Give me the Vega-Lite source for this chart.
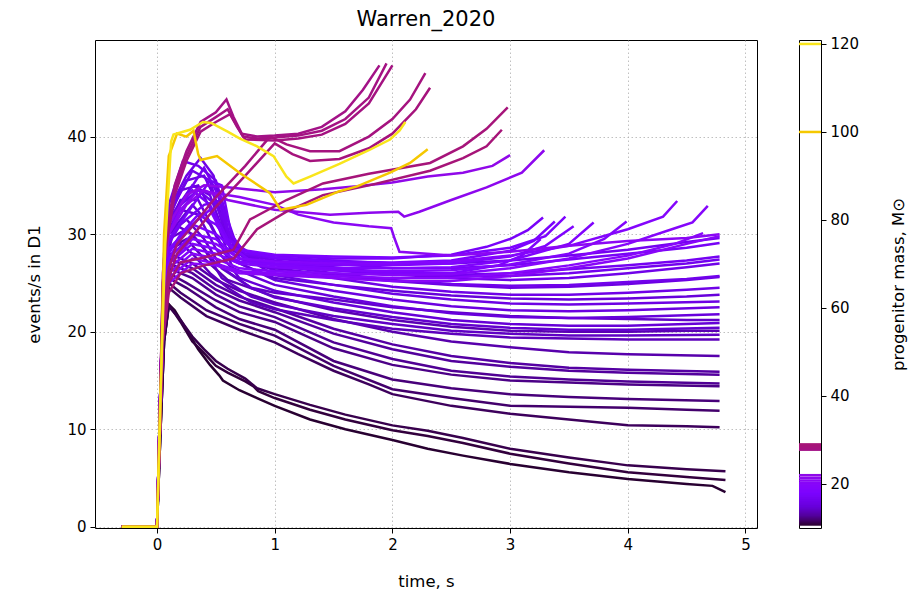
{
"$schema":"https://vega.github.io/schema/vega-lite/v6.json",
"padding":{"left":26,"top":8,"right":5,"bottom":5},
"background":"white",
"config":{"font":"DejaVu Sans","view":{"stroke":"black","strokeWidth":1},
"axis":{"labelFont":"DejaVu Sans","titleFont":"DejaVu Sans","labelFontSize":15,"titleFontSize":16.5,"titleFontWeight":"normal","labelColor":"#000","titleColor":"#000","tickColor":"#000","domain":false,"tickSize":5,"labelPadding":4},
"title":{"font":"DejaVu Sans","fontSize":21,"fontWeight":"normal","color":"#000"},
"concat":{"spacing":39}},
"datasets":{
"lines":[
{"k":"d1","m":10.8,"t":-0.3,"v":0},{"k":"d1","m":10.8,"t":0,"v":0},{"k":"d1","m":10.8,"t":0.03,"v":10},{"k":"d1","m":10.8,"t":0.06,"v":19},{"k":"d1","m":10.8,"t":0.1,"v":22.8},{"k":"d1","m":10.8,"t":0.15,"v":22.2},{"k":"d1","m":10.8,"t":0.25,"v":20.2},{"k":"d1","m":10.8,"t":0.35,"v":18.2},{"k":"d1","m":10.8,"t":0.45,"v":16.6},{"k":"d1","m":10.8,"t":0.53,"v":15.5},{"k":"d1","m":10.8,"t":0.56,"v":15.0},{"k":"d1","m":10.8,"t":0.7,"v":14.0},{"k":"d1","m":10.8,"t":0.85,"v":13.2},{"k":"d1","m":10.8,"t":1.0,"v":12.4},{"k":"d1","m":10.8,"t":1.3,"v":11.0},{"k":"d1","m":10.8,"t":1.6,"v":10.0},{"k":"d1","m":10.8,"t":2.0,"v":8.9},{"k":"d1","m":10.8,"t":2.3,"v":8.0},{"k":"d1","m":10.8,"t":2.6,"v":7.3},{"k":"d1","m":10.8,"t":3.0,"v":6.45},{"k":"d1","m":10.8,"t":3.5,"v":5.6},{"k":"d1","m":10.8,"t":4.0,"v":4.9},{"k":"d1","m":10.8,"t":4.5,"v":4.4},{"k":"d1","m":10.8,"t":4.72,"v":4.2},{"k":"d1","m":10.8,"t":4.83,"v":3.55},
{"k":"d2","m":11.0,"t":-0.3,"v":0},{"k":"d2","m":11.0,"t":0,"v":0},{"k":"d2","m":11.0,"t":0.03,"v":10},{"k":"d2","m":11.0,"t":0.06,"v":19},{"k":"d2","m":11.0,"t":0.1,"v":22.8},{"k":"d2","m":11.0,"t":0.2,"v":21},{"k":"d2","m":11.0,"t":0.3,"v":19},{"k":"d2","m":11.0,"t":0.4,"v":17.8},{"k":"d2","m":11.0,"t":0.5,"v":16.5},{"k":"d2","m":11.0,"t":0.6,"v":15.8},{"k":"d2","m":11.0,"t":0.75,"v":14.9},{"k":"d2","m":11.0,"t":0.82,"v":14.4},{"k":"d2","m":11.0,"t":0.86,"v":13.9},{"k":"d2","m":11.0,"t":1.0,"v":13.2},{"k":"d2","m":11.0,"t":1.3,"v":12.0},{"k":"d2","m":11.0,"t":1.6,"v":11.0},{"k":"d2","m":11.0,"t":2.0,"v":9.9},{"k":"d2","m":11.0,"t":2.3,"v":9.3},{"k":"d2","m":11.0,"t":2.6,"v":8.6},{"k":"d2","m":11.0,"t":3.0,"v":7.5},{"k":"d2","m":11.0,"t":3.5,"v":6.5},{"k":"d2","m":11.0,"t":4.0,"v":5.6},{"k":"d2","m":11.0,"t":4.5,"v":5.1},{"k":"d2","m":11.0,"t":4.83,"v":4.8},
{"k":"d3","m":11.3,"t":-0.3,"v":0},{"k":"d3","m":11.3,"t":0,"v":0},{"k":"d3","m":11.3,"t":0.03,"v":10},{"k":"d3","m":11.3,"t":0.06,"v":19},{"k":"d3","m":11.3,"t":0.1,"v":22.6},{"k":"d3","m":11.3,"t":0.2,"v":21.2},{"k":"d3","m":11.3,"t":0.3,"v":19.5},{"k":"d3","m":11.3,"t":0.4,"v":18.2},{"k":"d3","m":11.3,"t":0.5,"v":17.0},{"k":"d3","m":11.3,"t":0.6,"v":16.2},{"k":"d3","m":11.3,"t":0.75,"v":15.2},{"k":"d3","m":11.3,"t":0.8,"v":14.7},{"k":"d3","m":11.3,"t":0.85,"v":14.2},{"k":"d3","m":11.3,"t":1.0,"v":13.6},{"k":"d3","m":11.3,"t":1.3,"v":12.5},{"k":"d3","m":11.3,"t":1.6,"v":11.5},{"k":"d3","m":11.3,"t":2.0,"v":10.4},{"k":"d3","m":11.3,"t":2.3,"v":9.85},{"k":"d3","m":11.3,"t":2.6,"v":9.1},{"k":"d3","m":11.3,"t":3.0,"v":8.0},{"k":"d3","m":11.3,"t":3.5,"v":7.1},{"k":"d3","m":11.3,"t":4.0,"v":6.3},{"k":"d3","m":11.3,"t":4.5,"v":5.9},{"k":"d3","m":11.3,"t":4.83,"v":5.7},
{"k":"v1","m":11.6,"t":-0.3,"v":0},{"k":"v1","m":11.6,"t":0,"v":0},{"k":"v1","m":11.6,"t":0.03,"v":12},{"k":"v1","m":11.6,"t":0.06,"v":21},{"k":"v1","m":11.6,"t":0.1,"v":24.5},{"k":"v1","m":11.6,"t":0.2,"v":23.5},{"k":"v1","m":11.6,"t":0.42,"v":21.6},{"k":"v1","m":11.6,"t":0.7,"v":20.2},{"k":"v1","m":11.6,"t":1.0,"v":18.9},{"k":"v1","m":11.6,"t":1.2,"v":17.7},{"k":"v1","m":11.6,"t":1.5,"v":16.0},{"k":"v1","m":11.6,"t":1.8,"v":14.6},{"k":"v1","m":11.6,"t":2.0,"v":13.6},{"k":"v1","m":11.6,"t":2.5,"v":12.4},{"k":"v1","m":11.6,"t":3.0,"v":11.6},{"k":"v1","m":11.6,"t":3.5,"v":11.0},{"k":"v1","m":11.6,"t":4.0,"v":10.4},{"k":"v1","m":11.6,"t":4.5,"v":10.3},{"k":"v1","m":11.6,"t":4.78,"v":10.2},
{"k":"v2","m":11.9,"t":-0.3,"v":0},{"k":"v2","m":11.9,"t":0,"v":0},{"k":"v2","m":11.9,"t":0.03,"v":12},{"k":"v2","m":11.9,"t":0.06,"v":22},{"k":"v2","m":11.9,"t":0.1,"v":25},{"k":"v2","m":11.9,"t":0.2,"v":24},{"k":"v2","m":11.9,"t":0.42,"v":22.2},{"k":"v2","m":11.9,"t":0.7,"v":20.8},{"k":"v2","m":11.9,"t":1.0,"v":19.6},{"k":"v2","m":11.9,"t":1.5,"v":16.5},{"k":"v2","m":11.9,"t":2.0,"v":14.1},{"k":"v2","m":11.9,"t":2.5,"v":13.2},{"k":"v2","m":11.9,"t":3.0,"v":12.4},{"k":"v2","m":11.9,"t":3.5,"v":12.3},{"k":"v2","m":11.9,"t":4.0,"v":12.2},{"k":"v2","m":11.9,"t":4.5,"v":12.0},{"k":"v2","m":11.9,"t":4.78,"v":11.9},
{"k":"v3","m":12.2,"t":-0.3,"v":0},{"k":"v3","m":12.2,"t":0,"v":0},{"k":"v3","m":12.2,"t":0.03,"v":12},{"k":"v3","m":12.2,"t":0.06,"v":22},{"k":"v3","m":12.2,"t":0.1,"v":25.5},{"k":"v3","m":12.2,"t":0.25,"v":24.5},{"k":"v3","m":12.2,"t":0.5,"v":22.5},{"k":"v3","m":12.2,"t":0.7,"v":21.3},{"k":"v3","m":12.2,"t":1.0,"v":20.2},{"k":"v3","m":12.2,"t":1.5,"v":17.0},{"k":"v3","m":12.2,"t":2.0,"v":15.1},{"k":"v3","m":12.2,"t":2.5,"v":14.2},{"k":"v3","m":12.2,"t":3.0,"v":13.6},{"k":"v3","m":12.2,"t":3.5,"v":13.3},{"k":"v3","m":12.2,"t":4.0,"v":13.1},{"k":"v3","m":12.2,"t":4.78,"v":12.9},
{"k":"v4","m":12.5,"t":-0.3,"v":0},{"k":"v4","m":12.5,"t":0,"v":0},{"k":"v4","m":12.5,"t":0.03,"v":13},{"k":"v4","m":12.5,"t":0.06,"v":22.5},{"k":"v4","m":12.5,"t":0.1,"v":26},{"k":"v4","m":12.5,"t":0.25,"v":25},{"k":"v4","m":12.5,"t":0.5,"v":23.2},{"k":"v4","m":12.5,"t":0.7,"v":22},{"k":"v4","m":12.5,"t":1.0,"v":21},{"k":"v4","m":12.5,"t":1.5,"v":18.3},{"k":"v4","m":12.5,"t":2.0,"v":16.6},{"k":"v4","m":12.5,"t":2.5,"v":15.6},{"k":"v4","m":12.5,"t":3.0,"v":15.0},{"k":"v4","m":12.5,"t":3.5,"v":14.8},{"k":"v4","m":12.5,"t":4.0,"v":14.6},{"k":"v4","m":12.5,"t":4.78,"v":14.4},
{"k":"v5","m":12.8,"t":-0.3,"v":0},{"k":"v5","m":12.8,"t":0,"v":0},{"k":"v5","m":12.8,"t":0.03,"v":13},{"k":"v5","m":12.8,"t":0.06,"v":23},{"k":"v5","m":12.8,"t":0.1,"v":26.5},{"k":"v5","m":12.8,"t":0.3,"v":25.5},{"k":"v5","m":12.8,"t":0.5,"v":23.8},{"k":"v5","m":12.8,"t":0.7,"v":22.6},{"k":"v5","m":12.8,"t":1.0,"v":21.5},{"k":"v5","m":12.8,"t":1.5,"v":18.9},{"k":"v5","m":12.8,"t":2.0,"v":17.2},{"k":"v5","m":12.8,"t":2.5,"v":16.0},{"k":"v5","m":12.8,"t":3.0,"v":15.4},{"k":"v5","m":12.8,"t":3.5,"v":15.1},{"k":"v5","m":12.8,"t":4.0,"v":14.9},{"k":"v5","m":12.8,"t":4.78,"v":14.7},
{"k":"v6","m":13.0,"t":-0.3,"v":0},{"k":"v6","m":13.0,"t":0,"v":0},{"k":"v6","m":13.0,"t":0.03,"v":13},{"k":"v6","m":13.0,"t":0.06,"v":23},{"k":"v6","m":13.0,"t":0.1,"v":27},{"k":"v6","m":13.0,"t":0.3,"v":26},{"k":"v6","m":13.0,"t":0.5,"v":24.3},{"k":"v6","m":13.0,"t":0.7,"v":23.2},{"k":"v6","m":13.0,"t":1.0,"v":22},{"k":"v6","m":13.0,"t":1.5,"v":19.8},{"k":"v6","m":13.0,"t":2.0,"v":18.2},{"k":"v6","m":13.0,"t":2.5,"v":17.0},{"k":"v6","m":13.0,"t":3.0,"v":16.4},{"k":"v6","m":13.0,"t":3.5,"v":16.0},{"k":"v6","m":13.0,"t":4.0,"v":15.8},{"k":"v6","m":13.0,"t":4.78,"v":15.6},
{"k":"v7","m":13.2,"t":-0.3,"v":0},{"k":"v7","m":13.2,"t":0,"v":0},{"k":"v7","m":13.2,"t":0.03,"v":13},{"k":"v7","m":13.2,"t":0.06,"v":23.5},{"k":"v7","m":13.2,"t":0.1,"v":27.5},{"k":"v7","m":13.2,"t":0.3,"v":26.5},{"k":"v7","m":13.2,"t":0.5,"v":24.8},{"k":"v7","m":13.2,"t":0.7,"v":23.6},{"k":"v7","m":13.2,"t":1.0,"v":22.4},{"k":"v7","m":13.2,"t":1.5,"v":20.3},{"k":"v7","m":13.2,"t":2.0,"v":18.7},{"k":"v7","m":13.2,"t":2.5,"v":17.5},{"k":"v7","m":13.2,"t":3.0,"v":16.8},{"k":"v7","m":13.2,"t":3.5,"v":16.3},{"k":"v7","m":13.2,"t":4.0,"v":16.1},{"k":"v7","m":13.2,"t":4.78,"v":15.9},
{"k":"v8","m":13.5,"t":-0.3,"v":0},{"k":"v8","m":13.5,"t":0,"v":0},{"k":"v8","m":13.5,"t":0.03,"v":14},{"k":"v8","m":13.5,"t":0.06,"v":24},{"k":"v8","m":13.5,"t":0.1,"v":28},{"k":"v8","m":13.5,"t":0.3,"v":27},{"k":"v8","m":13.5,"t":0.5,"v":25.3},{"k":"v8","m":13.5,"t":0.7,"v":24.2},{"k":"v8","m":13.5,"t":1.0,"v":23},{"k":"v8","m":13.5,"t":1.5,"v":21.3},{"k":"v8","m":13.5,"t":2.0,"v":20},{"k":"v8","m":13.5,"t":2.5,"v":19},{"k":"v8","m":13.5,"t":3.0,"v":18.4},{"k":"v8","m":13.5,"t":3.5,"v":17.9},{"k":"v8","m":13.5,"t":4.0,"v":17.7},{"k":"v8","m":13.5,"t":4.78,"v":17.5},
{"k":"e7","m":13.75,"t":-0.3,"v":0},{"k":"e7","m":13.75,"t":0,"v":0},{"k":"e7","m":13.75,"t":0.03,"v":14},{"k":"e7","m":13.75,"t":0.06,"v":24.5},{"k":"e7","m":13.75,"t":0.1,"v":28.5},{"k":"e7","m":13.75,"t":0.25,"v":29.5},{"k":"e7","m":13.75,"t":0.4,"v":27.5},{"k":"e7","m":13.75,"t":0.6,"v":25.3},{"k":"e7","m":13.75,"t":1.0,"v":23.6},{"k":"e7","m":13.75,"t":1.5,"v":22.2},{"k":"e7","m":13.75,"t":2.0,"v":21.2},{"k":"e7","m":13.75,"t":2.5,"v":20.5},{"k":"e7","m":13.75,"t":3.0,"v":20.1},{"k":"e7","m":13.75,"t":3.5,"v":20},{"k":"e7","m":13.75,"t":4.0,"v":20},{"k":"e7","m":13.75,"t":4.5,"v":20.1},{"k":"e7","m":13.75,"t":4.78,"v":20.1},
{"k":"f12","m":14.0,"t":-0.3,"v":0},{"k":"f12","m":14.0,"t":0,"v":0},{"k":"f12","m":14.0,"t":0.03,"v":14},{"k":"f12","m":14.0,"t":0.06,"v":25},{"k":"f12","m":14.0,"t":0.1,"v":28.5},{"k":"f12","m":14.0,"t":0.2,"v":29},{"k":"f12","m":14.0,"t":0.3,"v":28},{"k":"f12","m":14.0,"t":0.45,"v":26},{"k":"f12","m":14.0,"t":0.6,"v":24.5},{"k":"f12","m":14.0,"t":0.8,"v":23},{"k":"f12","m":14.0,"t":1.0,"v":22.3},{"k":"f12","m":14.0,"t":1.5,"v":21.2},{"k":"f12","m":14.0,"t":2.0,"v":20.3},{"k":"f12","m":14.0,"t":2.5,"v":19.8},{"k":"f12","m":14.0,"t":3.0,"v":19.4},{"k":"f12","m":14.0,"t":3.5,"v":19.3},{"k":"f12","m":14.0,"t":4.0,"v":19.2},{"k":"f12","m":14.0,"t":4.78,"v":19.2},
{"k":"f11","m":14.3,"t":-0.3,"v":0},{"k":"f11","m":14.3,"t":0,"v":0},{"k":"f11","m":14.3,"t":0.03,"v":14},{"k":"f11","m":14.3,"t":0.06,"v":25.5},{"k":"f11","m":14.3,"t":0.1,"v":29.5},{"k":"f11","m":14.3,"t":0.25,"v":30.5},{"k":"f11","m":14.3,"t":0.4,"v":28.5},{"k":"f11","m":14.3,"t":0.55,"v":25.5},{"k":"f11","m":14.3,"t":0.8,"v":23.6},{"k":"f11","m":14.3,"t":1.0,"v":22.8},{"k":"f11","m":14.3,"t":1.5,"v":21.6},{"k":"f11","m":14.3,"t":2.0,"v":20.8},{"k":"f11","m":14.3,"t":2.5,"v":20.1},{"k":"f11","m":14.3,"t":3.0,"v":19.8},{"k":"f11","m":14.3,"t":3.5,"v":19.6},{"k":"f11","m":14.3,"t":4.0,"v":19.6},{"k":"f11","m":14.3,"t":4.78,"v":19.7},
{"k":"e1","m":14.45,"t":-0.3,"v":0},{"k":"e1","m":14.45,"t":0,"v":0},{"k":"e1","m":14.45,"t":0.03,"v":14},{"k":"e1","m":14.45,"t":0.06,"v":26},{"k":"e1","m":14.45,"t":0.15,"v":31},{"k":"e1","m":14.45,"t":0.3,"v":30},{"k":"e1","m":14.45,"t":0.5,"v":27},{"k":"e1","m":14.45,"t":0.8,"v":24.5},{"k":"e1","m":14.45,"t":1.0,"v":24},{"k":"e1","m":14.45,"t":1.5,"v":23.3},{"k":"e1","m":14.45,"t":2.0,"v":22.5},{"k":"e1","m":14.45,"t":2.5,"v":22},{"k":"e1","m":14.45,"t":3.0,"v":21.6},{"k":"e1","m":14.45,"t":3.5,"v":21.4},{"k":"e1","m":14.45,"t":4.0,"v":21.3},{"k":"e1","m":14.45,"t":4.5,"v":21.2},{"k":"e1","m":14.45,"t":4.78,"v":21.2},
{"k":"f10","m":14.6,"t":-0.3,"v":0},{"k":"f10","m":14.6,"t":0,"v":0},{"k":"f10","m":14.6,"t":0.03,"v":14},{"k":"f10","m":14.6,"t":0.06,"v":26},{"k":"f10","m":14.6,"t":0.1,"v":30},{"k":"f10","m":14.6,"t":0.25,"v":31.5},{"k":"f10","m":14.6,"t":0.4,"v":29.5},{"k":"f10","m":14.6,"t":0.55,"v":26.5},{"k":"f10","m":14.6,"t":0.8,"v":24.5},{"k":"f10","m":14.6,"t":1.0,"v":23.5},{"k":"f10","m":14.6,"t":1.5,"v":22.4},{"k":"f10","m":14.6,"t":2.0,"v":21.5},{"k":"f10","m":14.6,"t":2.5,"v":20.8},{"k":"f10","m":14.6,"t":3.0,"v":20.4},{"k":"f10","m":14.6,"t":3.5,"v":20.2},{"k":"f10","m":14.6,"t":4.0,"v":20.2},{"k":"f10","m":14.6,"t":4.78,"v":20.4},
{"k":"f9","m":14.9,"t":-0.3,"v":0},{"k":"f9","m":14.9,"t":0,"v":0},{"k":"f9","m":14.9,"t":0.03,"v":15},{"k":"f9","m":14.9,"t":0.06,"v":26},{"k":"f9","m":14.9,"t":0.1,"v":30.5},{"k":"f9","m":14.9,"t":0.2,"v":32.5},{"k":"f9","m":14.9,"t":0.35,"v":32},{"k":"f9","m":14.9,"t":0.5,"v":28.5},{"k":"f9","m":14.9,"t":0.7,"v":25.5},{"k":"f9","m":14.9,"t":1.0,"v":24.2},{"k":"f9","m":14.9,"t":1.5,"v":23},{"k":"f9","m":14.9,"t":2.0,"v":22},{"k":"f9","m":14.9,"t":2.5,"v":21.2},{"k":"f9","m":14.9,"t":3.0,"v":20.8},{"k":"f9","m":14.9,"t":3.5,"v":20.6},{"k":"f9","m":14.9,"t":4.0,"v":20.6},{"k":"f9","m":14.9,"t":4.78,"v":20.9},
{"k":"e2","m":15.05,"t":-0.3,"v":0},{"k":"e2","m":15.05,"t":0,"v":0},{"k":"e2","m":15.05,"t":0.03,"v":15},{"k":"e2","m":15.05,"t":0.06,"v":26},{"k":"e2","m":15.05,"t":0.1,"v":30},{"k":"e2","m":15.05,"t":0.3,"v":33},{"k":"e2","m":15.05,"t":0.45,"v":31},{"k":"e2","m":15.05,"t":0.6,"v":27.5},{"k":"e2","m":15.05,"t":1.0,"v":25.5},{"k":"e2","m":15.05,"t":1.5,"v":24.8},{"k":"e2","m":15.05,"t":2.0,"v":24.2},{"k":"e2","m":15.05,"t":2.5,"v":23.7},{"k":"e2","m":15.05,"t":3.0,"v":23.4},{"k":"e2","m":15.05,"t":3.5,"v":23.3},{"k":"e2","m":15.05,"t":4.0,"v":23.4},{"k":"e2","m":15.05,"t":4.5,"v":23.6},{"k":"e2","m":15.05,"t":4.78,"v":23.8},
{"k":"f8","m":15.2,"t":-0.3,"v":0},{"k":"f8","m":15.2,"t":0,"v":0},{"k":"f8","m":15.2,"t":0.03,"v":15},{"k":"f8","m":15.2,"t":0.06,"v":26.5},{"k":"f8","m":15.2,"t":0.1,"v":31},{"k":"f8","m":15.2,"t":0.2,"v":33.5},{"k":"f8","m":15.2,"t":0.35,"v":33.5},{"k":"f8","m":15.2,"t":0.5,"v":30},{"k":"f8","m":15.2,"t":0.65,"v":26.5},{"k":"f8","m":15.2,"t":1.0,"v":24.8},{"k":"f8","m":15.2,"t":1.5,"v":23.6},{"k":"f8","m":15.2,"t":2.0,"v":22.6},{"k":"f8","m":15.2,"t":2.5,"v":21.9},{"k":"f8","m":15.2,"t":3.0,"v":21.5},{"k":"f8","m":15.2,"t":3.5,"v":21.4},{"k":"f8","m":15.2,"t":4.0,"v":21.5},{"k":"f8","m":15.2,"t":4.78,"v":21.8},
{"k":"f7","m":15.5,"t":-0.3,"v":0},{"k":"f7","m":15.5,"t":0,"v":0},{"k":"f7","m":15.5,"t":0.03,"v":15},{"k":"f7","m":15.5,"t":0.06,"v":27},{"k":"f7","m":15.5,"t":0.1,"v":31.5},{"k":"f7","m":15.5,"t":0.2,"v":34.5},{"k":"f7","m":15.5,"t":0.35,"v":35},{"k":"f7","m":15.5,"t":0.5,"v":31.5},{"k":"f7","m":15.5,"t":0.62,"v":27.5},{"k":"f7","m":15.5,"t":1.0,"v":25.3},{"k":"f7","m":15.5,"t":1.5,"v":24.2},{"k":"f7","m":15.5,"t":2.0,"v":23.3},{"k":"f7","m":15.5,"t":2.5,"v":22.6},{"k":"f7","m":15.5,"t":3.0,"v":22.2},{"k":"f7","m":15.5,"t":3.5,"v":22.1},{"k":"f7","m":15.5,"t":4.0,"v":22.2},{"k":"f7","m":15.5,"t":4.78,"v":22.5},
{"k":"e3","m":15.65,"t":-0.3,"v":0},{"k":"e3","m":15.65,"t":0,"v":0},{"k":"e3","m":15.65,"t":0.03,"v":15},{"k":"e3","m":15.65,"t":0.06,"v":27},{"k":"e3","m":15.65,"t":0.1,"v":31.5},{"k":"e3","m":15.65,"t":0.3,"v":35},{"k":"e3","m":15.65,"t":0.45,"v":34},{"k":"e3","m":15.65,"t":0.6,"v":29},{"k":"e3","m":15.65,"t":0.8,"v":27},{"k":"e3","m":15.65,"t":1.0,"v":26.5},{"k":"e3","m":15.65,"t":1.5,"v":25.8},{"k":"e3","m":15.65,"t":2.0,"v":25.2},{"k":"e3","m":15.65,"t":2.5,"v":24.8},{"k":"e3","m":15.65,"t":3.0,"v":24.5},{"k":"e3","m":15.65,"t":3.5,"v":24.6},{"k":"e3","m":15.65,"t":4.0,"v":24.9},{"k":"e3","m":15.65,"t":4.5,"v":25.3},{"k":"e3","m":15.65,"t":4.78,"v":25.6},
{"k":"f6","m":15.8,"t":-0.3,"v":0},{"k":"f6","m":15.8,"t":0,"v":0},{"k":"f6","m":15.8,"t":0.03,"v":15},{"k":"f6","m":15.8,"t":0.06,"v":27},{"k":"f6","m":15.8,"t":0.1,"v":32},{"k":"f6","m":15.8,"t":0.25,"v":35.5},{"k":"f6","m":15.8,"t":0.4,"v":36},{"k":"f6","m":15.8,"t":0.52,"v":33},{"k":"f6","m":15.8,"t":0.62,"v":28.5},{"k":"f6","m":15.8,"t":1.0,"v":25.8},{"k":"f6","m":15.8,"t":1.5,"v":24.8},{"k":"f6","m":15.8,"t":2.0,"v":23.9},{"k":"f6","m":15.8,"t":2.5,"v":23.3},{"k":"f6","m":15.8,"t":3.0,"v":22.9},{"k":"f6","m":15.8,"t":3.5,"v":22.8},{"k":"f6","m":15.8,"t":4.0,"v":22.9},{"k":"f6","m":15.8,"t":4.78,"v":23.1},
{"k":"f5","m":16.1,"t":-0.3,"v":0},{"k":"f5","m":16.1,"t":0,"v":0},{"k":"f5","m":16.1,"t":0.03,"v":15},{"k":"f5","m":16.1,"t":0.06,"v":27.5},{"k":"f5","m":16.1,"t":0.1,"v":32.5},{"k":"f5","m":16.1,"t":0.25,"v":36},{"k":"f5","m":16.1,"t":0.37,"v":37.8},{"k":"f5","m":16.1,"t":0.48,"v":36},{"k":"f5","m":16.1,"t":0.58,"v":31},{"k":"f5","m":16.1,"t":0.7,"v":27.5},{"k":"f5","m":16.1,"t":1.0,"v":26.3},{"k":"f5","m":16.1,"t":1.5,"v":25.5},{"k":"f5","m":16.1,"t":2.0,"v":24.6},{"k":"f5","m":16.1,"t":2.5,"v":24.1},{"k":"f5","m":16.1,"t":3.0,"v":23.8},{"k":"f5","m":16.1,"t":3.5,"v":23.8},{"k":"f5","m":16.1,"t":4.0,"v":24},{"k":"f5","m":16.1,"t":4.5,"v":24.3},{"k":"f5","m":16.1,"t":4.78,"v":24.5},
{"k":"e4","m":16.25,"t":-0.3,"v":0},{"k":"e4","m":16.25,"t":0,"v":0},{"k":"e4","m":16.25,"t":0.03,"v":15},{"k":"e4","m":16.25,"t":0.06,"v":27.5},{"k":"e4","m":16.25,"t":0.1,"v":32},{"k":"e4","m":16.25,"t":0.3,"v":36.5},{"k":"e4","m":16.25,"t":0.45,"v":35.5},{"k":"e4","m":16.25,"t":0.58,"v":30},{"k":"e4","m":16.25,"t":0.75,"v":27.8},{"k":"e4","m":16.25,"t":1.0,"v":27},{"k":"e4","m":16.25,"t":1.5,"v":26.5},{"k":"e4","m":16.25,"t":2.0,"v":25.9},{"k":"e4","m":16.25,"t":2.5,"v":25.5},{"k":"e4","m":16.25,"t":3.0,"v":25.3},{"k":"e4","m":16.25,"t":3.5,"v":25.5},{"k":"e4","m":16.25,"t":4.0,"v":26},{"k":"e4","m":16.25,"t":4.5,"v":26.6},{"k":"e4","m":16.25,"t":4.78,"v":27},
{"k":"f4","m":16.4,"t":-0.3,"v":0},{"k":"f4","m":16.4,"t":0,"v":0},{"k":"f4","m":16.4,"t":0.03,"v":15},{"k":"f4","m":16.4,"t":0.06,"v":28},{"k":"f4","m":16.4,"t":0.1,"v":33},{"k":"f4","m":16.4,"t":0.22,"v":37.5},{"k":"f4","m":16.4,"t":0.35,"v":37},{"k":"f4","m":16.4,"t":0.5,"v":35.5},{"k":"f4","m":16.4,"t":0.6,"v":31.5},{"k":"f4","m":16.4,"t":0.7,"v":28},{"k":"f4","m":16.4,"t":1.0,"v":26.8},{"k":"f4","m":16.4,"t":1.5,"v":26},{"k":"f4","m":16.4,"t":2.0,"v":25.3},{"k":"f4","m":16.4,"t":2.5,"v":24.9},{"k":"f4","m":16.4,"t":3.0,"v":24.7},{"k":"f4","m":16.4,"t":3.5,"v":24.8},{"k":"f4","m":16.4,"t":4.0,"v":25.1},{"k":"f4","m":16.4,"t":4.5,"v":25.4},{"k":"f4","m":16.4,"t":4.78,"v":25.7},
{"k":"f3","m":16.7,"t":-0.3,"v":0},{"k":"f3","m":16.7,"t":0,"v":0},{"k":"f3","m":16.7,"t":0.03,"v":15},{"k":"f3","m":16.7,"t":0.06,"v":27},{"k":"f3","m":16.7,"t":0.1,"v":31},{"k":"f3","m":16.7,"t":0.2,"v":33},{"k":"f3","m":16.7,"t":0.35,"v":34.5},{"k":"f3","m":16.7,"t":0.5,"v":33},{"k":"f3","m":16.7,"t":0.6,"v":30.5},{"k":"f3","m":16.7,"t":0.7,"v":28},{"k":"f3","m":16.7,"t":1.0,"v":27.3},{"k":"f3","m":16.7,"t":1.5,"v":26.6},{"k":"f3","m":16.7,"t":2.0,"v":26},{"k":"f3","m":16.7,"t":2.5,"v":25.7},{"k":"f3","m":16.7,"t":3.0,"v":25.7},{"k":"f3","m":16.7,"t":3.5,"v":26},{"k":"f3","m":16.7,"t":4.0,"v":26.5},{"k":"f3","m":16.7,"t":4.5,"v":27},{"k":"f3","m":16.7,"t":4.78,"v":27.4},
{"k":"e5","m":16.85,"t":-0.3,"v":0},{"k":"e5","m":16.85,"t":0,"v":0},{"k":"e5","m":16.85,"t":0.03,"v":15},{"k":"e5","m":16.85,"t":0.06,"v":27},{"k":"e5","m":16.85,"t":0.1,"v":31},{"k":"e5","m":16.85,"t":0.25,"v":34},{"k":"e5","m":16.85,"t":0.4,"v":36.8},{"k":"e5","m":16.85,"t":0.52,"v":34},{"k":"e5","m":16.85,"t":0.62,"v":29},{"k":"e5","m":16.85,"t":0.8,"v":28},{"k":"e5","m":16.85,"t":1.0,"v":27.6},{"k":"e5","m":16.85,"t":1.5,"v":27.3},{"k":"e5","m":16.85,"t":2.0,"v":27},{"k":"e5","m":16.85,"t":2.5,"v":27},{"k":"e5","m":16.85,"t":3.0,"v":27.3},{"k":"e5","m":16.85,"t":3.5,"v":27.8},{"k":"e5","m":16.85,"t":4.0,"v":28.4},{"k":"e5","m":16.85,"t":4.5,"v":29.2},{"k":"e5","m":16.85,"t":4.78,"v":29.6},
{"k":"f2","m":17.0,"t":-0.3,"v":0},{"k":"f2","m":17.0,"t":0,"v":0},{"k":"f2","m":17.0,"t":0.03,"v":14},{"k":"f2","m":17.0,"t":0.06,"v":26},{"k":"f2","m":17.0,"t":0.1,"v":29},{"k":"f2","m":17.0,"t":0.2,"v":31},{"k":"f2","m":17.0,"t":0.4,"v":33},{"k":"f2","m":17.0,"t":0.55,"v":33.5},{"k":"f2","m":17.0,"t":0.62,"v":29.5},{"k":"f2","m":17.0,"t":0.75,"v":27.5},{"k":"f2","m":17.0,"t":1.0,"v":27},{"k":"f2","m":17.0,"t":1.5,"v":26.3},{"k":"f2","m":17.0,"t":2.0,"v":25.8},{"k":"f2","m":17.0,"t":2.5,"v":25.8},{"k":"f2","m":17.0,"t":3.0,"v":26},{"k":"f2","m":17.0,"t":3.5,"v":26.4},{"k":"f2","m":17.0,"t":4.0,"v":26.8},{"k":"f2","m":17.0,"t":4.5,"v":27.3},{"k":"f2","m":17.0,"t":4.78,"v":27.7},
{"k":"f1","m":17.3,"t":-0.3,"v":0},{"k":"f1","m":17.3,"t":0,"v":0},{"k":"f1","m":17.3,"t":0.03,"v":14},{"k":"f1","m":17.3,"t":0.06,"v":26},{"k":"f1","m":17.3,"t":0.1,"v":29.5},{"k":"f1","m":17.3,"t":0.25,"v":32},{"k":"f1","m":17.3,"t":0.45,"v":35.5},{"k":"f1","m":17.3,"t":0.55,"v":35},{"k":"f1","m":17.3,"t":0.63,"v":30},{"k":"f1","m":17.3,"t":0.75,"v":28},{"k":"f1","m":17.3,"t":1.0,"v":27.5},{"k":"f1","m":17.3,"t":1.5,"v":27},{"k":"f1","m":17.3,"t":2.0,"v":26.5},{"k":"f1","m":17.3,"t":2.5,"v":26.5},{"k":"f1","m":17.3,"t":3.0,"v":26.8},{"k":"f1","m":17.3,"t":3.5,"v":27.4},{"k":"f1","m":17.3,"t":4.0,"v":28},{"k":"f1","m":17.3,"t":4.5,"v":28.6},{"k":"f1","m":17.3,"t":4.78,"v":29.1},
{"k":"t1","m":17.6,"t":-0.3,"v":0},{"k":"t1","m":17.6,"t":0,"v":0},{"k":"t1","m":17.6,"t":0.03,"v":14},{"k":"t1","m":17.6,"t":0.06,"v":26},{"k":"t1","m":17.6,"t":0.1,"v":30},{"k":"t1","m":17.6,"t":0.2,"v":33},{"k":"t1","m":17.6,"t":0.3,"v":34.5},{"k":"t1","m":17.6,"t":0.45,"v":33},{"k":"t1","m":17.6,"t":0.6,"v":29.5},{"k":"t1","m":17.6,"t":0.8,"v":28},{"k":"t1","m":17.6,"t":1.0,"v":27.8},{"k":"t1","m":17.6,"t":1.5,"v":27.5},{"k":"t1","m":17.6,"t":2.0,"v":27.5},{"k":"t1","m":17.6,"t":2.5,"v":27.9},{"k":"t1","m":17.6,"t":2.8,"v":28.7},{"k":"t1","m":17.6,"t":3.0,"v":29.5},{"k":"t1","m":17.6,"t":3.15,"v":30.4},{"k":"t1","m":17.6,"t":3.28,"v":31.7},
{"k":"t2","m":17.9,"t":-0.3,"v":0},{"k":"t2","m":17.9,"t":0,"v":0},{"k":"t2","m":17.9,"t":0.03,"v":13},{"k":"t2","m":17.9,"t":0.06,"v":25},{"k":"t2","m":17.9,"t":0.1,"v":28},{"k":"t2","m":17.9,"t":0.2,"v":30},{"k":"t2","m":17.9,"t":0.35,"v":32},{"k":"t2","m":17.9,"t":0.5,"v":31},{"k":"t2","m":17.9,"t":0.65,"v":28.5},{"k":"t2","m":17.9,"t":1.0,"v":27.6},{"k":"t2","m":17.9,"t":1.5,"v":27.2},{"k":"t2","m":17.9,"t":2.0,"v":27.1},{"k":"t2","m":17.9,"t":2.5,"v":27.3},{"k":"t2","m":17.9,"t":3.0,"v":28.3},{"k":"t2","m":17.9,"t":3.2,"v":29.3},{"k":"t2","m":17.9,"t":3.38,"v":31.3},
{"k":"t3","m":18.2,"t":-0.3,"v":0},{"k":"t3","m":18.2,"t":0,"v":0},{"k":"t3","m":18.2,"t":0.03,"v":13},{"k":"t3","m":18.2,"t":0.06,"v":25},{"k":"t3","m":18.2,"t":0.1,"v":28.5},{"k":"t3","m":18.2,"t":0.3,"v":31},{"k":"t3","m":18.2,"t":0.5,"v":30},{"k":"t3","m":18.2,"t":0.65,"v":28.5},{"k":"t3","m":18.2,"t":1.0,"v":27.9},{"k":"t3","m":18.2,"t":1.5,"v":27.7},{"k":"t3","m":18.2,"t":2.0,"v":27.6},{"k":"t3","m":18.2,"t":2.5,"v":27.8},{"k":"t3","m":18.2,"t":3.0,"v":28.6},{"k":"t3","m":18.2,"t":3.3,"v":29.8},{"k":"t3","m":18.2,"t":3.47,"v":31.8},
{"k":"e6","m":18.35,"t":-0.3,"v":0},{"k":"e6","m":18.35,"t":0,"v":0},{"k":"e6","m":18.35,"t":0.03,"v":13},{"k":"e6","m":18.35,"t":0.06,"v":24.5},{"k":"e6","m":18.35,"t":0.1,"v":27.5},{"k":"e6","m":18.35,"t":0.25,"v":30.5},{"k":"e6","m":18.35,"t":0.45,"v":32.5},{"k":"e6","m":18.35,"t":0.6,"v":29},{"k":"e6","m":18.35,"t":0.8,"v":27.2},{"k":"e6","m":18.35,"t":1.0,"v":26.9},{"k":"e6","m":18.35,"t":1.5,"v":26.4},{"k":"e6","m":18.35,"t":2.0,"v":26},{"k":"e6","m":18.35,"t":2.5,"v":26},{"k":"e6","m":18.35,"t":2.9,"v":26.8},{"k":"e6","m":18.35,"t":3.1,"v":27.8},{"k":"e6","m":18.35,"t":3.26,"v":29.5},
{"k":"t4","m":18.5,"t":-0.3,"v":0},{"k":"t4","m":18.5,"t":0,"v":0},{"k":"t4","m":18.5,"t":0.03,"v":13},{"k":"t4","m":18.5,"t":0.06,"v":24.5},{"k":"t4","m":18.5,"t":0.1,"v":27.5},{"k":"t4","m":18.5,"t":0.3,"v":30},{"k":"t4","m":18.5,"t":0.5,"v":29.5},{"k":"t4","m":18.5,"t":0.7,"v":27.5},{"k":"t4","m":18.5,"t":1.0,"v":27},{"k":"t4","m":18.5,"t":1.5,"v":26.8},{"k":"t4","m":18.5,"t":2.0,"v":26.8},{"k":"t4","m":18.5,"t":2.5,"v":27},{"k":"t4","m":18.5,"t":3.0,"v":27.7},{"k":"t4","m":18.5,"t":3.3,"v":28.8},{"k":"t4","m":18.5,"t":3.54,"v":30.8},
{"k":"t5","m":18.8,"t":-0.3,"v":0},{"k":"t5","m":18.8,"t":0,"v":0},{"k":"t5","m":18.8,"t":0.03,"v":13},{"k":"t5","m":18.8,"t":0.06,"v":24.5},{"k":"t5","m":18.8,"t":0.1,"v":27},{"k":"t5","m":18.8,"t":0.3,"v":29},{"k":"t5","m":18.8,"t":0.5,"v":28.5},{"k":"t5","m":18.8,"t":0.7,"v":27.2},{"k":"t5","m":18.8,"t":1.0,"v":26.8},{"k":"t5","m":18.8,"t":1.5,"v":26.5},{"k":"t5","m":18.8,"t":2.0,"v":26.5},{"k":"t5","m":18.8,"t":2.5,"v":26.6},{"k":"t5","m":18.8,"t":3.0,"v":27.3},{"k":"t5","m":18.8,"t":3.5,"v":29},{"k":"t5","m":18.8,"t":3.71,"v":31.2},
{"k":"t6","m":19.1,"t":-0.3,"v":0},{"k":"t6","m":19.1,"t":0,"v":0},{"k":"t6","m":19.1,"t":0.03,"v":13},{"k":"t6","m":19.1,"t":0.06,"v":24},{"k":"t6","m":19.1,"t":0.1,"v":26.5},{"k":"t6","m":19.1,"t":0.3,"v":28.5},{"k":"t6","m":19.1,"t":0.5,"v":28},{"k":"t6","m":19.1,"t":0.7,"v":27},{"k":"t6","m":19.1,"t":1.0,"v":26.6},{"k":"t6","m":19.1,"t":1.5,"v":26.3},{"k":"t6","m":19.1,"t":2.0,"v":26.2},{"k":"t6","m":19.1,"t":2.5,"v":26.3},{"k":"t6","m":19.1,"t":3.0,"v":26.9},{"k":"t6","m":19.1,"t":3.5,"v":28},{"k":"t6","m":19.1,"t":3.8,"v":29.5},{"k":"t6","m":19.1,"t":3.99,"v":31.3},
{"k":"t7","m":19.4,"t":-0.3,"v":0},{"k":"t7","m":19.4,"t":0,"v":0},{"k":"t7","m":19.4,"t":0.03,"v":13},{"k":"t7","m":19.4,"t":0.06,"v":24},{"k":"t7","m":19.4,"t":0.1,"v":27},{"k":"t7","m":19.4,"t":0.3,"v":29.5},{"k":"t7","m":19.4,"t":0.5,"v":29},{"k":"t7","m":19.4,"t":0.7,"v":27.5},{"k":"t7","m":19.4,"t":1.0,"v":27.2},{"k":"t7","m":19.4,"t":1.5,"v":27},{"k":"t7","m":19.4,"t":2.0,"v":27},{"k":"t7","m":19.4,"t":2.5,"v":27.2},{"k":"t7","m":19.4,"t":3.0,"v":27.8},{"k":"t7","m":19.4,"t":3.5,"v":28.8},{"k":"t7","m":19.4,"t":4.0,"v":30.5},{"k":"t7","m":19.4,"t":4.3,"v":31.8},{"k":"t7","m":19.4,"t":4.42,"v":33.4},
{"k":"t8","m":19.7,"t":-0.3,"v":0},{"k":"t8","m":19.7,"t":0,"v":0},{"k":"t8","m":19.7,"t":0.03,"v":12},{"k":"t8","m":19.7,"t":0.06,"v":23.5},{"k":"t8","m":19.7,"t":0.1,"v":26},{"k":"t8","m":19.7,"t":0.3,"v":28},{"k":"t8","m":19.7,"t":0.5,"v":27.5},{"k":"t8","m":19.7,"t":0.7,"v":26.5},{"k":"t8","m":19.7,"t":1.0,"v":26.2},{"k":"t8","m":19.7,"t":1.5,"v":26},{"k":"t8","m":19.7,"t":2.0,"v":25.8},{"k":"t8","m":19.7,"t":2.5,"v":25.9},{"k":"t8","m":19.7,"t":3.0,"v":26.5},{"k":"t8","m":19.7,"t":3.5,"v":27.5},{"k":"t8","m":19.7,"t":4.0,"v":29},{"k":"t8","m":19.7,"t":4.4,"v":30.6},{"k":"t8","m":19.7,"t":4.55,"v":31.2},{"k":"t8","m":19.7,"t":4.68,"v":32.9},
{"k":"t9","m":20.0,"t":-0.3,"v":0},{"k":"t9","m":20.0,"t":0,"v":0},{"k":"t9","m":20.0,"t":0.03,"v":12},{"k":"t9","m":20.0,"t":0.06,"v":23},{"k":"t9","m":20.0,"t":0.1,"v":25.5},{"k":"t9","m":20.0,"t":0.3,"v":27.5},{"k":"t9","m":20.0,"t":0.5,"v":27},{"k":"t9","m":20.0,"t":0.7,"v":26.2},{"k":"t9","m":20.0,"t":1.0,"v":26},{"k":"t9","m":20.0,"t":1.5,"v":25.7},{"k":"t9","m":20.0,"t":2.0,"v":25.5},{"k":"t9","m":20.0,"t":2.5,"v":25.5},{"k":"t9","m":20.0,"t":3.0,"v":26},{"k":"t9","m":20.0,"t":3.5,"v":26.8},{"k":"t9","m":20.0,"t":4.0,"v":27.8},{"k":"t9","m":20.0,"t":4.4,"v":29},{"k":"t9","m":20.0,"t":4.64,"v":30.1},
{"k":"t10","m":20.3,"t":-0.3,"v":0},{"k":"t10","m":20.3,"t":0,"v":0},{"k":"t10","m":20.3,"t":0.03,"v":12},{"k":"t10","m":20.3,"t":0.06,"v":23},{"k":"t10","m":20.3,"t":0.1,"v":25},{"k":"t10","m":20.3,"t":0.3,"v":27},{"k":"t10","m":20.3,"t":0.5,"v":26.8},{"k":"t10","m":20.3,"t":0.7,"v":26},{"k":"t10","m":20.3,"t":1.0,"v":25.8},{"k":"t10","m":20.3,"t":1.5,"v":25.5},{"k":"t10","m":20.3,"t":2.0,"v":25.2},{"k":"t10","m":20.3,"t":2.5,"v":25.2},{"k":"t10","m":20.3,"t":3.0,"v":25.7},{"k":"t10","m":20.3,"t":3.5,"v":26.5},{"k":"t10","m":20.3,"t":4.0,"v":27.5},{"k":"t10","m":20.3,"t":4.5,"v":29},{"k":"t10","m":20.3,"t":4.78,"v":29.8},
{"k":"ud","m":20.8,"t":-0.3,"v":0},{"k":"ud","m":20.8,"t":0,"v":0},{"k":"ud","m":20.8,"t":0.03,"v":14},{"k":"ud","m":20.8,"t":0.06,"v":26},{"k":"ud","m":20.8,"t":0.1,"v":30},{"k":"ud","m":20.8,"t":0.2,"v":32.5},{"k":"ud","m":20.8,"t":0.35,"v":34.5},{"k":"ud","m":20.8,"t":0.5,"v":34.2},{"k":"ud","m":20.8,"t":0.7,"v":33.8},{"k":"ud","m":20.8,"t":1.0,"v":33},{"k":"ud","m":20.8,"t":1.2,"v":32},{"k":"ud","m":20.8,"t":1.5,"v":31.2},{"k":"ud","m":20.8,"t":1.8,"v":30.8},{"k":"ud","m":20.8,"t":1.99,"v":30.6},{"k":"ud","m":20.8,"t":2.02,"v":29.5},{"k":"ud","m":20.8,"t":2.06,"v":28.2},{"k":"ud","m":20.8,"t":2.5,"v":27.8},{"k":"ud","m":20.8,"t":3.0,"v":28.2},{"k":"ud","m":20.8,"t":3.5,"v":28.8},{"k":"ud","m":20.8,"t":4.0,"v":29.3},{"k":"ud","m":20.8,"t":4.5,"v":29.6},{"k":"ud","m":20.8,"t":4.78,"v":30.0},
{"k":"ub","m":21.4,"t":-0.3,"v":0},{"k":"ub","m":21.4,"t":0,"v":0},{"k":"ub","m":21.4,"t":0.03,"v":14},{"k":"ub","m":21.4,"t":0.06,"v":26},{"k":"ub","m":21.4,"t":0.1,"v":30},{"k":"ub","m":21.4,"t":0.25,"v":33},{"k":"ub","m":21.4,"t":0.4,"v":34.5},{"k":"ub","m":21.4,"t":0.6,"v":33.5},{"k":"ub","m":21.4,"t":1.0,"v":32.5},{"k":"ub","m":21.4,"t":1.47,"v":32},{"k":"ub","m":21.4,"t":1.8,"v":32.2},{"k":"ub","m":21.4,"t":2.05,"v":32.3},{"k":"ub","m":21.4,"t":2.1,"v":31.8},{"k":"ub","m":21.4,"t":2.23,"v":32.3},{"k":"ub","m":21.4,"t":2.5,"v":33.5},{"k":"ub","m":21.4,"t":2.8,"v":34.8},{"k":"ub","m":21.4,"t":3.1,"v":36.3},{"k":"ub","m":21.4,"t":3.29,"v":38.6},
{"k":"ua","m":22.0,"t":-0.3,"v":0},{"k":"ua","m":22.0,"t":0,"v":0},{"k":"ua","m":22.0,"t":0.03,"v":15},{"k":"ua","m":22.0,"t":0.06,"v":27},{"k":"ua","m":22.0,"t":0.1,"v":31},{"k":"ua","m":22.0,"t":0.25,"v":34},{"k":"ua","m":22.0,"t":0.4,"v":35},{"k":"ua","m":22.0,"t":0.6,"v":34.8},{"k":"ua","m":22.0,"t":1.0,"v":34.3},{"k":"ua","m":22.0,"t":1.41,"v":34.6},{"k":"ua","m":22.0,"t":1.7,"v":34.9},{"k":"ua","m":22.0,"t":2.0,"v":35.3},{"k":"ua","m":22.0,"t":2.3,"v":35.9},{"k":"ua","m":22.0,"t":2.6,"v":36.3},{"k":"ua","m":22.0,"t":2.85,"v":37},{"k":"ua","m":22.0,"t":3.0,"v":38.1},
{"k":"m1","m":27.8,"t":-0.3,"v":0},{"k":"m1","m":27.8,"t":0,"v":0},{"k":"m1","m":27.8,"t":0.03,"v":15},{"k":"m1","m":27.8,"t":0.05,"v":26},{"k":"m1","m":27.8,"t":0.08,"v":30},{"k":"m1","m":27.8,"t":0.15,"v":35},{"k":"m1","m":27.8,"t":0.25,"v":38.5},{"k":"m1","m":27.8,"t":0.37,"v":41.5},{"k":"m1","m":27.8,"t":0.5,"v":42.5},{"k":"m1","m":27.8,"t":0.59,"v":43.8},{"k":"m1","m":27.8,"t":0.65,"v":42},{"k":"m1","m":27.8,"t":0.72,"v":40.3},{"k":"m1","m":27.8,"t":0.85,"v":40},{"k":"m1","m":27.8,"t":1.0,"v":40.1},{"k":"m1","m":27.8,"t":1.2,"v":40.3},{"k":"m1","m":27.8,"t":1.4,"v":41},{"k":"m1","m":27.8,"t":1.6,"v":42.6},{"k":"m1","m":27.8,"t":1.75,"v":44.8},{"k":"m1","m":27.8,"t":1.89,"v":47.3},
{"k":"m2","m":28.0,"t":-0.3,"v":0},{"k":"m2","m":28.0,"t":0,"v":0},{"k":"m2","m":28.0,"t":0.03,"v":15},{"k":"m2","m":28.0,"t":0.05,"v":25},{"k":"m2","m":28.0,"t":0.08,"v":29.5},{"k":"m2","m":28.0,"t":0.15,"v":34.5},{"k":"m2","m":28.0,"t":0.25,"v":38},{"k":"m2","m":28.0,"t":0.37,"v":41},{"k":"m2","m":28.0,"t":0.5,"v":42},{"k":"m2","m":28.0,"t":0.6,"v":42.8},{"k":"m2","m":28.0,"t":0.66,"v":41.5},{"k":"m2","m":28.0,"t":0.73,"v":40},{"k":"m2","m":28.0,"t":0.85,"v":39.8},{"k":"m2","m":28.0,"t":1.0,"v":39.9},{"k":"m2","m":28.0,"t":1.2,"v":40.1},{"k":"m2","m":28.0,"t":1.4,"v":40.6},{"k":"m2","m":28.0,"t":1.6,"v":41.8},{"k":"m2","m":28.0,"t":1.8,"v":44},{"k":"m2","m":28.0,"t":1.95,"v":47.5},
{"k":"m3","m":28.2,"t":-0.3,"v":0},{"k":"m3","m":28.2,"t":0,"v":0},{"k":"m3","m":28.2,"t":0.03,"v":15},{"k":"m3","m":28.2,"t":0.05,"v":25},{"k":"m3","m":28.2,"t":0.08,"v":29},{"k":"m3","m":28.2,"t":0.15,"v":34},{"k":"m3","m":28.2,"t":0.25,"v":37.5},{"k":"m3","m":28.2,"t":0.37,"v":40.5},{"k":"m3","m":28.2,"t":0.5,"v":41.5},{"k":"m3","m":28.2,"t":0.62,"v":42.3},{"k":"m3","m":28.2,"t":0.68,"v":41},{"k":"m3","m":28.2,"t":0.75,"v":39.7},{"k":"m3","m":28.2,"t":1.0,"v":39.6},{"k":"m3","m":28.2,"t":1.2,"v":39.8},{"k":"m3","m":28.2,"t":1.4,"v":40.2},{"k":"m3","m":28.2,"t":1.6,"v":41.3},{"k":"m3","m":28.2,"t":1.8,"v":43.4},{"k":"m3","m":28.2,"t":2.0,"v":47.3},
{"k":"m4","m":28.4,"t":-0.3,"v":0},{"k":"m4","m":28.4,"t":0,"v":0},{"k":"m4","m":28.4,"t":0.03,"v":12},{"k":"m4","m":28.4,"t":0.05,"v":22},{"k":"m4","m":28.4,"t":0.1,"v":26.5},{"k":"m4","m":28.4,"t":0.17,"v":29},{"k":"m4","m":28.4,"t":0.3,"v":30.8},{"k":"m4","m":28.4,"t":0.5,"v":33.8},{"k":"m4","m":28.4,"t":0.75,"v":37},{"k":"m4","m":28.4,"t":0.96,"v":40},{"k":"m4","m":28.4,"t":1.1,"v":39.2},{"k":"m4","m":28.4,"t":1.3,"v":38.5},{"k":"m4","m":28.4,"t":1.55,"v":38.5},{"k":"m4","m":28.4,"t":1.8,"v":40},{"k":"m4","m":28.4,"t":2.0,"v":41.8},{"k":"m4","m":28.4,"t":2.15,"v":43.8},{"k":"m4","m":28.4,"t":2.28,"v":46.5},
{"k":"m5","m":28.6,"t":-0.3,"v":0},{"k":"m5","m":28.6,"t":0,"v":0},{"k":"m5","m":28.6,"t":0.03,"v":12},{"k":"m5","m":28.6,"t":0.05,"v":21},{"k":"m5","m":28.6,"t":0.1,"v":25.5},{"k":"m5","m":28.6,"t":0.17,"v":28},{"k":"m5","m":28.6,"t":0.3,"v":29.8},{"k":"m5","m":28.6,"t":0.5,"v":32.8},{"k":"m5","m":28.6,"t":0.75,"v":36},{"k":"m5","m":28.6,"t":1.0,"v":39.3},{"k":"m5","m":28.6,"t":1.15,"v":38.2},{"k":"m5","m":28.6,"t":1.3,"v":37.5},{"k":"m5","m":28.6,"t":1.55,"v":37.7},{"k":"m5","m":28.6,"t":1.8,"v":38.8},{"k":"m5","m":28.6,"t":2.0,"v":40.3},{"k":"m5","m":28.6,"t":2.2,"v":42.8},{"k":"m5","m":28.6,"t":2.32,"v":45},
{"k":"m6","m":28.8,"t":-0.3,"v":0},{"k":"m6","m":28.8,"t":0,"v":0},{"k":"m6","m":28.8,"t":0.03,"v":12},{"k":"m6","m":28.8,"t":0.05,"v":20},{"k":"m6","m":28.8,"t":0.1,"v":25},{"k":"m6","m":28.8,"t":0.2,"v":27.1},{"k":"m6","m":28.8,"t":0.4,"v":27.6},{"k":"m6","m":28.8,"t":0.65,"v":28.4},{"k":"m6","m":28.8,"t":0.79,"v":31.5},{"k":"m6","m":28.8,"t":1.1,"v":33.5},{"k":"m6","m":28.8,"t":1.41,"v":35.2},{"k":"m6","m":28.8,"t":1.8,"v":36.2},{"k":"m6","m":28.8,"t":2.32,"v":37.3},{"k":"m6","m":28.8,"t":2.6,"v":39},{"k":"m6","m":28.8,"t":2.8,"v":40.8},{"k":"m6","m":28.8,"t":2.98,"v":43},
{"k":"m7","m":29.0,"t":-0.3,"v":0},{"k":"m7","m":29.0,"t":0,"v":0},{"k":"m7","m":29.0,"t":0.03,"v":12},{"k":"m7","m":29.0,"t":0.05,"v":19},{"k":"m7","m":29.0,"t":0.1,"v":24},{"k":"m7","m":29.0,"t":0.2,"v":26},{"k":"m7","m":29.0,"t":0.4,"v":26.8},{"k":"m7","m":29.0,"t":0.65,"v":27.5},{"k":"m7","m":29.0,"t":0.85,"v":30.5},{"k":"m7","m":29.0,"t":1.1,"v":32.3},{"k":"m7","m":29.0,"t":1.41,"v":34},{"k":"m7","m":29.0,"t":1.8,"v":35},{"k":"m7","m":29.0,"t":2.32,"v":36.5},{"k":"m7","m":29.0,"t":2.6,"v":37.8},{"k":"m7","m":29.0,"t":2.8,"v":39},{"k":"m7","m":29.0,"t":2.93,"v":40.7},
{"k":"y100","m":100,"t":-0.3,"v":0},{"k":"y100","m":100,"t":0,"v":0},{"k":"y100","m":100,"t":0.025,"v":10},{"k":"y100","m":100,"t":0.06,"v":30},{"k":"y100","m":100,"t":0.1,"v":38},{"k":"y100","m":100,"t":0.17,"v":40.3},{"k":"y100","m":100,"t":0.25,"v":40},{"k":"y100","m":100,"t":0.31,"v":40.6},{"k":"y100","m":100,"t":0.35,"v":38.2},{"k":"y100","m":100,"t":0.37,"v":37.6},{"k":"y100","m":100,"t":0.51,"v":38},{"k":"y100","m":100,"t":0.7,"v":36.3},{"k":"y100","m":100,"t":0.96,"v":34.2},{"k":"y100","m":100,"t":1.05,"v":32.5},{"k":"y100","m":100,"t":1.27,"v":33},{"k":"y100","m":100,"t":1.55,"v":34.4},{"k":"y100","m":100,"t":1.7,"v":34.9},{"k":"y100","m":100,"t":1.98,"v":36.3},{"k":"y100","m":100,"t":2.15,"v":37.3},{"k":"y100","m":100,"t":2.3,"v":38.7},
{"k":"y120","m":120,"t":-0.3,"v":0},{"k":"y120","m":120,"t":0,"v":0},{"k":"y120","m":120,"t":0.025,"v":12},{"k":"y120","m":120,"t":0.07,"v":29},{"k":"y120","m":120,"t":0.12,"v":39.5},{"k":"y120","m":120,"t":0.14,"v":40.2},{"k":"y120","m":120,"t":0.28,"v":40.7},{"k":"y120","m":120,"t":0.39,"v":41.5},{"k":"y120","m":120,"t":0.46,"v":41.4},{"k":"y120","m":120,"t":0.6,"v":40.5},{"k":"y120","m":120,"t":0.705,"v":39.8},{"k":"y120","m":120,"t":0.85,"v":39},{"k":"y120","m":120,"t":0.99,"v":38},{"k":"y120","m":120,"t":1.1,"v":35.9},{"k":"y120","m":120,"t":1.16,"v":35.2},{"k":"y120","m":120,"t":1.3,"v":35.9},{"k":"y120","m":120,"t":1.55,"v":37.2},{"k":"y120","m":120,"t":1.8,"v":38.6},{"k":"y120","m":120,"t":1.98,"v":39.7},{"k":"y120","m":120,"t":2.06,"v":40.6},{"k":"y120","m":120,"t":2.11,"v":41.5}
],
"models":[{"m":10.8},{"m":11.0},{"m":11.3},{"m":11.6},{"m":11.9},{"m":12.2},{"m":12.5},{"m":12.8},{"m":13.0},{"m":13.2},{"m":13.5},{"m":13.75},{"m":14.0},{"m":14.3},{"m":14.45},{"m":14.6},{"m":14.9},{"m":15.05},{"m":15.2},{"m":15.5},{"m":15.65},{"m":15.8},{"m":16.1},{"m":16.25},{"m":16.4},{"m":16.7},{"m":16.85},{"m":17.0},{"m":17.3},{"m":17.6},{"m":17.9},{"m":18.2},{"m":18.35},{"m":18.5},{"m":18.8},{"m":19.1},{"m":19.4},{"m":19.7},{"m":20.0},{"m":20.3},{"m":20.8},{"m":21.4},{"m":22.0},{"m":27.8},{"m":28.0},{"m":28.2},{"m":28.4},{"m":28.6},{"m":28.8},{"m":29.0},{"m":100},{"m":120}]
},
"hconcat":[
{"width":662,"height":488,
"title":{"text":"Warren_2020","anchor":"middle","offset":10},
"data":{"name":"lines"},
"mark":{"type":"line","strokeWidth":2.5,"clip":true},
"encoding":{
"x":{"field":"t","type":"quantitative","scale":{"domain":[-0.527,5.098],"nice":false,"zero":false},"axis":{"title":"time, s","values":[0,1,2,3,4,5],"grid":true,"gridColor":"#b0b0b0","gridDash":[1.5,2.5],"gridWidth":0.8,"titlePadding":21}},
"y":{"field":"v","type":"quantitative","scale":{"domain":[-0.12,49.9],"nice":false,"zero":false},"axis":{"title":"events/s in D1","values":[0,10,20,30,40],"grid":true,"gridColor":"#b0b0b0","gridDash":[1.5,2.5],"gridWidth":0.8,"titlePadding":24}},
"color":{"field":"m","type":"quantitative","legend":null,"scale":{"domain":[10,11,12,13,15,18,20,22,25,28,40,60,100,120],"range":["#000000","#32003d","#450071","#53009d","#6701da","#7c03fe","#8706fb","#9008e9","#9b0dbb","#a41283","#be2c00","#d96000","#f5c800","#f9e51b"],"interpolate":"rgb"}},
"detail":{"field":"k","type":"nominal"}}},
{"width":22,"height":488,
"data":{"name":"models"},
"mark":{"type":"rule","strokeWidth":2.5},
"encoding":{
"y":{"field":"m","type":"quantitative","scale":{"domain":[10,120.9],"nice":false,"zero":false},"axis":{"orient":"right","title":"progenitor mass, M⊙","values":[20,40,60,80,100,120],"grid":false,"titleAngle":270,"titlePadding":48}},
"color":{"field":"m","type":"quantitative","legend":null,"scale":{"domain":[10,11,12,13,15,18,20,22,25,28,40,60,100,120],"range":["#000000","#32003d","#450071","#53009d","#6701da","#7c03fe","#8706fb","#9008e9","#9b0dbb","#a41283","#be2c00","#d96000","#f5c800","#f9e51b"],"interpolate":"rgb"}}}}
]
}
